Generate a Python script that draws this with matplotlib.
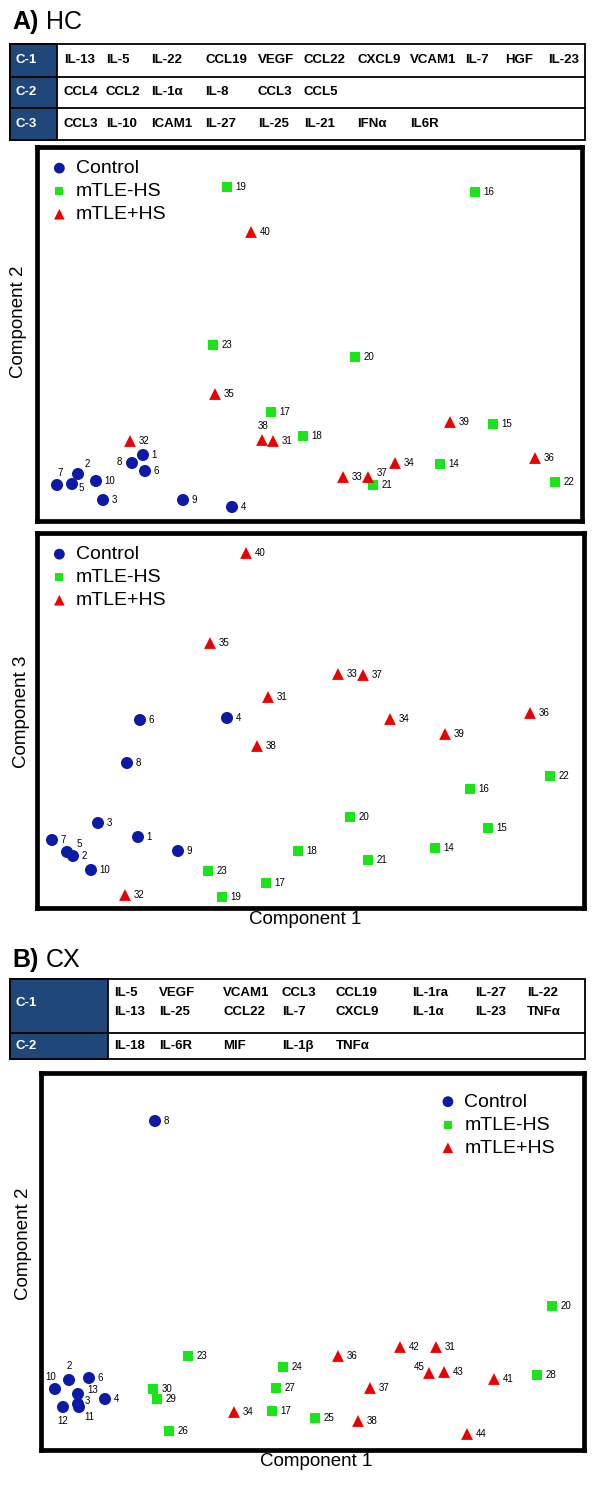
import matplotlib.pyplot as plt
from matplotlib.patches import Rectangle

plt.rcParams['font.family'] = ['Liberation Sans', 'DejaVu Sans']

# ---- panel A (HC): scores, arbitrary units ----
hc_ctrl_ids = [1, 2, 3, 4, 5, 6, 7, 8, 9, 10]
hc_ctrl_c1 = [106, 41, 66, 195, 35, 108, 20, 95, 146, 59]
hc_ctrl_c2 = [66, 47, 21, 14, 37, 50, 36, 58, 21, 40]
hc_ctrl_c3 = [71, 52, 85, 190, 56, 188, 68, 145, 57, 38]

hc_nohs_ids = [14, 15, 16, 17, 18, 19, 20, 21, 22, 23]
hc_nohs_c1 = [403, 456, 438, 234, 266, 190, 318, 336, 518, 176]
hc_nohs_c2 = [57, 97, 329, 109, 85, 334, 164, 36, 39, 176]
hc_nohs_c3 = [60, 80, 119, 25, 57, 11, 91, 48, 132, 37]

hc_hs_ids = [31, 32, 33, 34, 35, 36, 37, 38, 39, 40]
hc_hs_c1 = [236, 93, 306, 358, 178, 498, 331, 225, 413, 214]
hc_hs_c2 = [80, 80, 44, 58, 127, 63, 44, 81, 99, 289]
hc_hs_c3 = [211, 13, 234, 189, 265, 195, 233, 162, 174, 355]

# ---- panel B (CX) ----
cx_ctrl_ids = [2, 3, 4, 6, 8, 10, 11, 12, 13]
cx_ctrl_c1 = [28, 37, 64, 48, 114, 14, 38, 22, 37]
cx_ctrl_c2 = [70, 46, 51, 72, 329, 61, 43, 43, 56]

cx_nohs_ids = [17, 20, 23, 24, 25, 26, 27, 28, 29, 30]
cx_nohs_c1 = [231, 511, 147, 242, 274, 128, 235, 496, 116, 112]
cx_nohs_c2 = [39, 144, 94, 83, 32, 19, 62, 75, 51, 61]

cx_hs_ids = [31, 34, 36, 37, 38, 41, 42, 43, 44, 45]
cx_hs_c1 = [395, 193, 297, 329, 317, 453, 359, 403, 426, 388]
cx_hs_c2 = [103, 38, 94, 62, 29, 71, 103, 78, 16, 77]

# ---- cytokine tables ----
hc_comp1 = ['IL-13', 'IL-5', 'IL-22', 'CCL19', 'VEGF', 'CCL22', 'CXCL9', 'VCAM1', 'IL-7', 'HGF', 'IL-23']
hc_comp2 = ['CCL4', 'CCL2', 'IL-1α', 'IL-8', 'CCL3', 'CCL5']
hc_comp3 = ['CCL3', 'IL-10', 'ICAM1', 'IL-27', 'IL-25', 'IL-21', 'IFNα', 'IL6R']
cx_comp1_a = ['IL-5', 'VEGF', 'VCAM1', 'CCL3', 'CCL19', 'IL-1ra', 'IL-27', 'IL-22']
cx_comp1_b = ['IL-13', 'IL-25', 'CCL22', 'IL-7', 'CXCL9', 'IL-1α', 'IL-23', 'TNFα']
cx_comp2 = ['IL-18', 'IL-6R', 'MIF', 'IL-1β', 'TNFα']

groups = ['Control', 'mTLE-HS', 'mTLE+HS']
colors = ['#0c1aa6', '#19e619', '#ee0000']
markers = ['o', 's', '^']
sizes = [75, 42, 72]

navy = '#1f477a'

fig = plt.figure(figsize=(6, 14.88), dpi=100)

# overlay in pixel units for titles and tables
bg = fig.add_axes([0, 0, 1, 1])
bg.set_xlim(0, 600)
bg.set_ylim(1488, 0)
bg.axis('off')


def draw_table(top, bottom, splits, head_w, labels, label_y, word_rows, col_x):
    bg.add_patch(Rectangle((10, top), 575, bottom - top, fc='white', ec='black', lw=1.3))
    bg.add_patch(Rectangle((10, top), head_w, bottom - top, fc=navy, ec='black', lw=1.3))
    for s in splits:
        bg.plot([10, 585], [s, s], color='black', lw=1.3)
    for lab, y in zip(labels, label_y):
        bg.text(16, y, lab, color='white', fontsize=9.5, fontweight='bold', va='center')
    for words, y in word_rows:
        for w, x in zip(words, col_x):
            bg.text(x, y, w, fontsize=9.5, fontweight='bold', va='center')


bg.text(12, 22, 'A)', fontsize=18, fontweight='bold', va='center')
bg.text(46, 22, 'HC', fontsize=18, va='center')
draw_table(44, 140, [77, 108], 47, ['C-1', 'C-2', 'C-3'], [60, 92, 124],
           [(hc_comp1, 60), (hc_comp2, 92), (hc_comp3, 124)],
           [64, 106, 151, 205, 258, 304, 357, 410, 465, 505, 548])

bg.text(12, 960, 'B)', fontsize=18, fontweight='bold', va='center')
bg.text(46, 960, 'CX', fontsize=18, va='center')
draw_table(979, 1059, [1033], 98, ['C-1', 'C-2'], [1003, 1046],
           [(cx_comp1_a, 993), (cx_comp1_b, 1012), (cx_comp2, 1046)],
           [114, 159, 223, 282, 336, 412, 475, 527])

bg.text(19, 322, 'Component 2', fontsize=13.5, rotation=90, ha='center', va='center')
bg.text(22, 712, 'Component 3', fontsize=13.5, rotation=90, ha='center', va='center')
bg.text(305, 919, 'Component 1', fontsize=13.5, ha='center', va='center')
bg.text(24, 1244, 'Component 2', fontsize=13.5, rotation=90, ha='center', va='center')
bg.text(316, 1461, 'Component 1', fontsize=13.5, ha='center', va='center')


def scatter_panel(rect, data, xlim, ylim, special, legend_loc, legend_anchor):
    ax = fig.add_axes(rect)
    for (ids, xs, ys), g, c, m, s in zip(data, groups, colors, markers, sizes):
        ax.scatter(xs, ys, marker=m, s=s, color=c, edgecolors='none', label=g, zorder=3)
        for i, x, y in zip(ids, xs, ys):
            dx, dy, ha = special.get(i, (6, 0, 'left'))
            ax.annotate(str(i), (x, y), xytext=(dx, dy), textcoords='offset points',
                        fontsize=7, ha=ha, va='center')
    ax.set_xlim(*xlim)
    ax.set_ylim(*ylim)
    ax.set_xticks([])
    ax.set_yticks([])
    for sp in ax.spines.values():
        sp.set_linewidth(3.4)
    ax.legend(loc=legend_loc, bbox_to_anchor=legend_anchor, frameon=False, fontsize=14,
              markerscale=0.9, handletextpad=0.35, labelspacing=0.28, handlelength=1.0,
              borderaxespad=0.25)
    return ax


a1_special = {7: (2, 9, 'center'), 2: (5, 7, 'left'), 5: (5, -3, 'left'),
              8: (-7, 1, 'right'), 38: (1, 10, 'center'), 37: (6, 3, 'left')}
scatter_panel([37 / 600, 1 - 521 / 1488, 545 / 600, 374 / 1488],
              [(hc_ctrl_ids, hc_ctrl_c1, hc_ctrl_c2),
               (hc_nohs_ids, hc_nohs_c1, hc_nohs_c2),
               (hc_hs_ids, hc_hs_c1, hc_hs_c2)],
              (0, 545), (0, 374), a1_special, 'upper left', (0.0, 1.0))

a2_special = {5: (7, 6, 'left')}
scatter_panel([37 / 600, 1 - 908 / 1488, 547 / 600, 375 / 1488],
              [(hc_ctrl_ids, hc_ctrl_c1, hc_ctrl_c3),
               (hc_nohs_ids, hc_nohs_c1, hc_nohs_c3),
               (hc_hs_ids, hc_hs_c1, hc_hs_c3)],
              (5, 552), (0, 375), a2_special, 'upper left', (0.0, 1.0))

b_special = {2: (0, 10, 'center'), 10: (-3, 9, 'center'), 13: (7, 3, 'left'),
             3: (5, 2, 'left'), 11: (4, -7, 'left'), 12: (0, -10, 'center'),
             45: (-3, 4, 'right')}
scatter_panel([41 / 600, 1 - 1450 / 1488, 543 / 600, 377 / 1488],
              [(cx_ctrl_ids, cx_ctrl_c1, cx_ctrl_c2),
               (cx_nohs_ids, cx_nohs_c1, cx_nohs_c2),
               (cx_hs_ids, cx_hs_c1, cx_hs_c2)],
              (0, 543), (0, 377), b_special, 'upper right', (0.97, 0.98))

fig.savefig('out.png', dpi=100)
